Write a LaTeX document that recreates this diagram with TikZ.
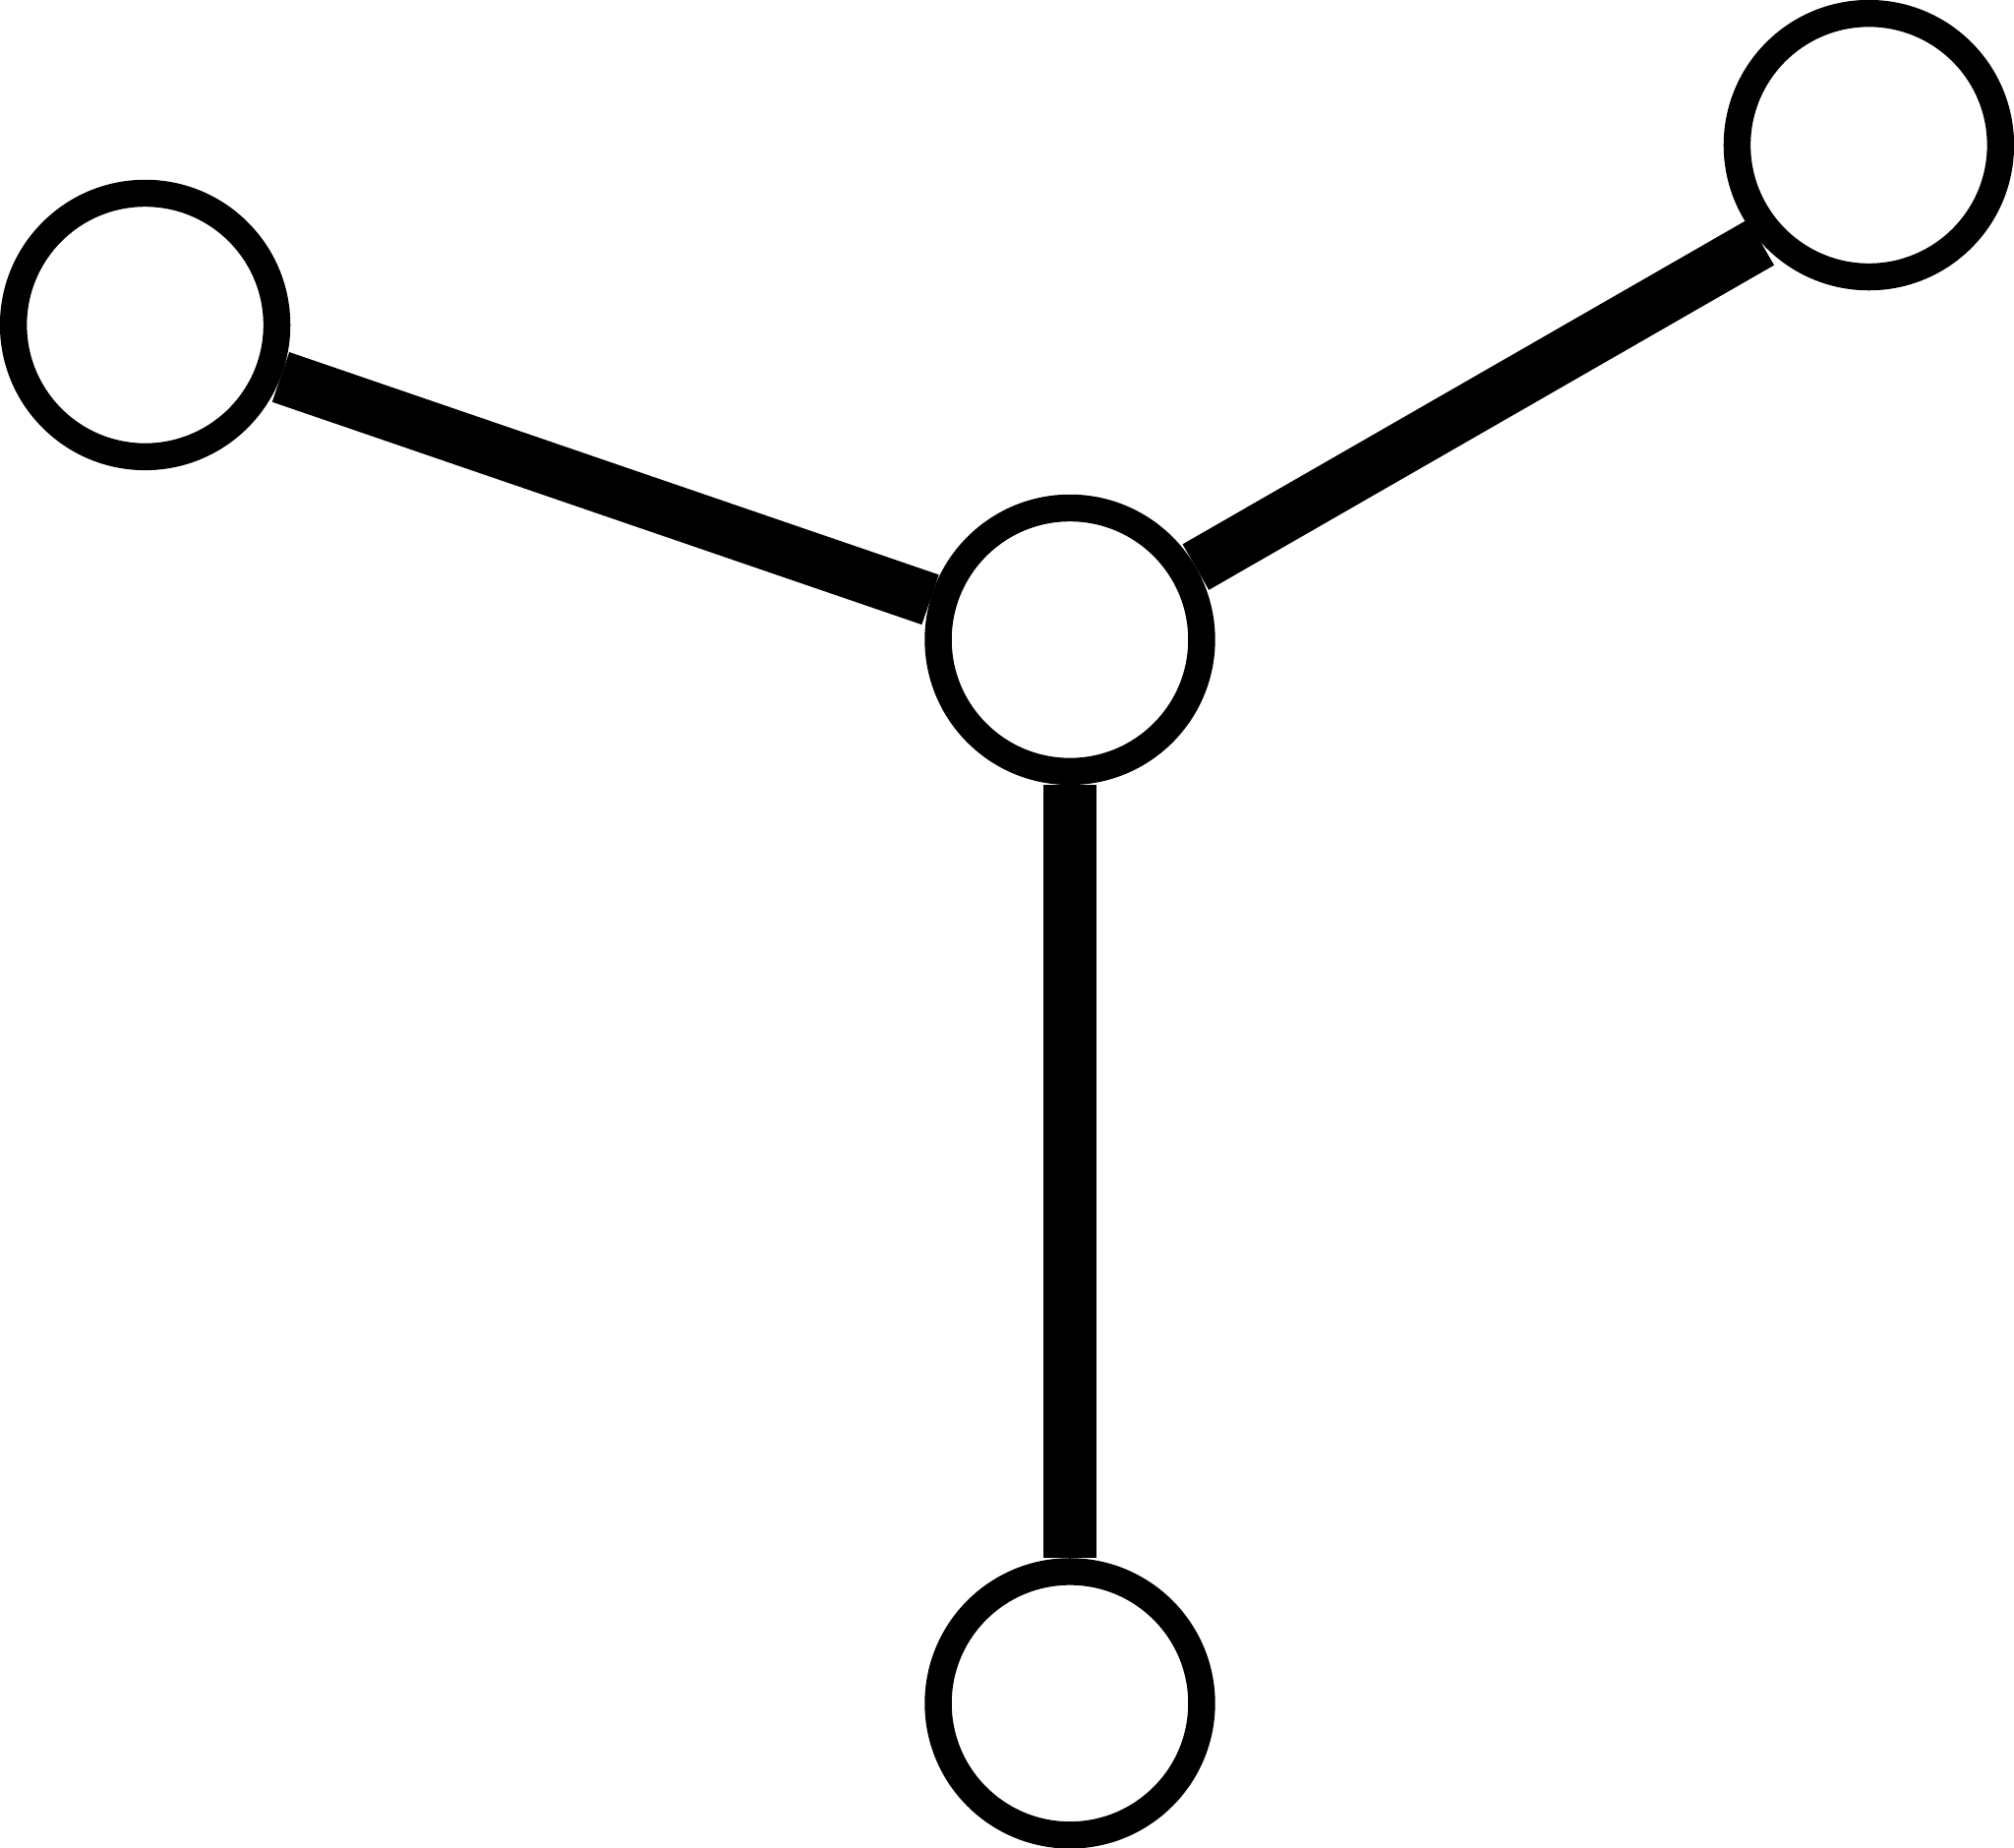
\documentclass[tikz,border=0pt]{standalone}
\begin{document}
\begin{tikzpicture}[x=0.01cm, y=0.01cm,
        vertex/.style={circle, draw=black, line width=0.21cm, fill=white, minimum size=2.05cm, inner sep=0pt},
        bond/.style={black, line width=0.41cm, line cap=butt}]
        \useasboundingbox (0,0) rectangle (1568,1438);
        \node[vertex] (hub) at (833,940) {};
        \node[vertex] (left) at (113,1185) {};
        \node[vertex] (right) at (1455,1325) {};
        \node[vertex] (bottom) at (833,112) {};
        \draw[bond] (left.339) -- (hub.164);
        \draw[bond] (hub.30) -- (right.222);
        \draw[bond] (hub.south) -- (bottom.north);
    \end{tikzpicture}
\end{document}
